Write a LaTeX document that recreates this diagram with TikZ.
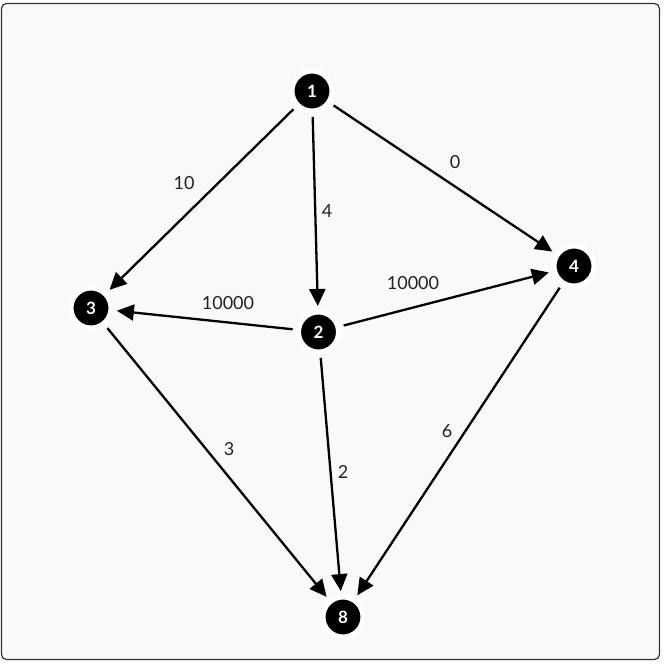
\documentclass[tikz,border=0pt]{standalone}
\usepackage{fontspec}
\setmainfont{Lato}
\usepackage{tikz}
\usetikzlibrary{arrows.meta}

\definecolor{panelbg}{HTML}{F9F9F9}
\definecolor{panelrule}{HTML}{333333}
\definecolor{lbltext}{HTML}{222222}

\begin{document}
\begin{tikzpicture}[
  x=1pt, y=-1pt,
  vertex/.style={circle, fill=black, draw=white, line width=5pt,
                 minimum size=40pt, inner sep=0pt, outer sep=6pt,
                 text=white, font=\fontsize{17}{17}\selectfont\bfseries},
  wgt/.style ={text=lbltext, font=\fontsize{18}{18}\selectfont},
  arr/.style ={-{Triangle[length=17pt, width=16pt]}, line width=2.3pt},
]

% panel
\path[use as bounding box] (0,0) rectangle (664,664);
\draw[panelrule, fill=panelbg, line width=1.2pt, rounded corners=5pt]
  (1.5,3.5) rectangle (659.5,659.5);

% vertices
\node[vertex] (v1) at (312,91)   {1};
\node[vertex] (v2) at (318.5,332) {2};
\node[vertex] (v3) at (91,308)   {3};
\node[vertex] (v4) at (574,266)  {4};
\node[vertex] (v8) at (343,617)  {8};

% weighted edges
\draw[arr] (v1) -- (v3) node[wgt] at (184,183) {10};
\draw[arr] (v1) -- (v2) node[wgt] at (327,211) {4};
\draw[arr] (v1) -- (v4) node[wgt] at (455,162) {0};
\draw[arr] (v2) -- (v3) node[wgt] at (228,303) {10000};
\draw[arr] (v2) -- (v4) node[wgt] at (413,283) {10000};
\draw[arr] (v3) -- (v8) node[wgt] at (229,449) {3};
\draw[arr] (v2) -- (v8) node[wgt] at (343,472) {2};
\draw[arr] (v4) -- (v8) node[wgt] at (447,431) {6};

\end{tikzpicture}
\end{document}
